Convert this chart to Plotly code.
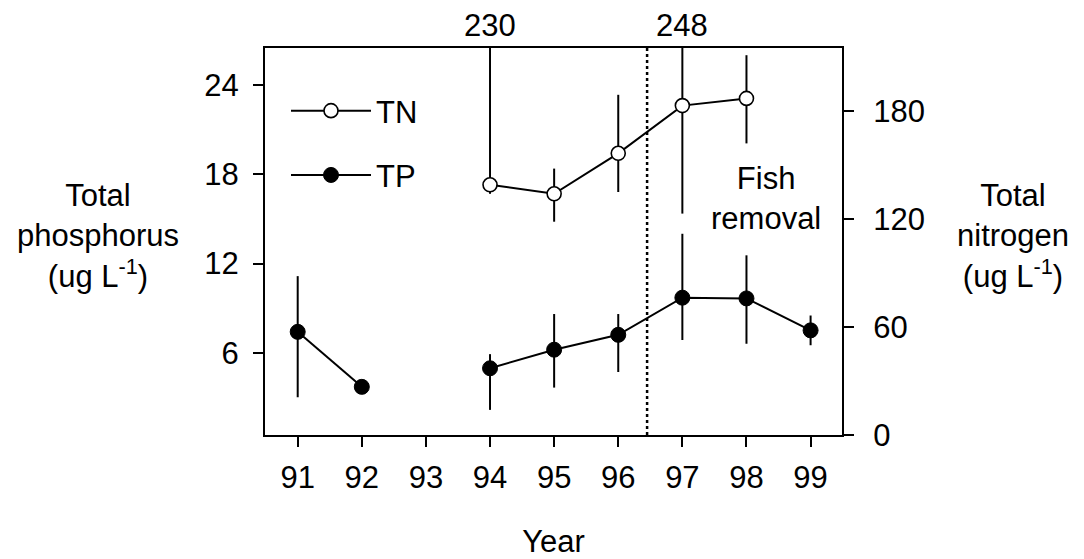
import plotly.graph_objects as go

# ---- data ----
years = [91, 92, 93, 94, 95, 96, 97, 98, 99]
tp = [7.4, 3.7, None, 4.95, 6.2, 7.2, 9.7, 9.65, 7.5]
tp_hi = [11.15, 3.7, None, 5.9, 8.6, 8.6, 14.0, 12.55, 8.5]
tp_lo = [3.0, 3.7, None, 2.15, 3.65, 4.7, 6.85, 6.6, 6.5]

tn_years = [94, 95, 96, 97, 98]
tn = [139, 134, 156.5, 183, 187]
tn_hi = [230, 148, 189, 248, 211]
tn_lo = [134, 118.5, 135, 123, 162]

offscale_labels = ["230", "248"]
offscale_years = [94, 97]

fish_removal_year = 96.45
tick_labels = [str(y) for y in years]

FONT = "Liberation Sans, Arial, Helvetica, sans-serif"
FS = 31

def diff(a, b):
    return [None if (x is None or y is None) else x - y for x, y in zip(a, b)]

fig = go.Figure()

fig.add_trace(go.Scatter(
    x=tn_years, y=tn, name="TN", yaxis="y2", mode="lines+markers",
    line=dict(color="black", width=2),
    marker=dict(symbol="circle", size=14, color="white", line=dict(color="black", width=1.6)),
    error_y=dict(type="data", symmetric=False, array=diff(tn_hi, tn),
                 arrayminus=diff(tn, tn_lo), width=0, thickness=2, color="black"),
    legendgroup="a",
))
fig.add_trace(go.Scatter(
    x=years, y=tp, name="TP", mode="lines+markers", connectgaps=False,
    line=dict(color="black", width=2),
    marker=dict(symbol="circle", size=15, color="black", line=dict(color="black", width=1)),
    error_y=dict(type="data", symmetric=False, array=diff(tp_hi, tp),
                 arrayminus=diff(tp, tp_lo), width=0, thickness=2, color="black"),
    legendgroup="b",
))

fig.add_shape(type="line", xref="x", yref="paper", x0=fish_removal_year, x1=fish_removal_year,
              y0=0, y1=1, line=dict(color="black", width=2.5, dash="dot"))

for lab, yr in zip(offscale_labels, offscale_years):
    fig.add_annotation(x=yr, xref="x", y=1.057, yref="paper", text=lab, showarrow=False,
                       font=dict(size=FS, family=FONT, color="black"), yanchor="middle")

fig.add_annotation(x=98.31, xref="x", y=0.61, yref="paper", text="Fish<br>removal",
                   showarrow=False, font=dict(size=FS, family=FONT, color="black"),
                   align="center", yanchor="middle")

fig.add_annotation(x=0, xref="paper", xshift=-167, y=0.515, yref="paper",
                   text="Total<br>phosphorus<br>(ug L<sup>-1</sup>)", showarrow=False,
                   font=dict(size=FS, family=FONT, color="black"), align="center",
                   xanchor="center", yanchor="middle")
fig.add_annotation(x=1, xref="paper", xshift=171, y=0.515, yref="paper",
                   text="Total<br>nitrogen<br>(ug L<sup>-1</sup>)", showarrow=False,
                   font=dict(size=FS, family=FONT, color="black"), align="center",
                   xanchor="center", yanchor="middle")

axis_common = dict(showgrid=False, zeroline=False, showline=True, linecolor="black",
                   linewidth=2, ticks="outside", ticklen=10, tickwidth=2, tickcolor="black",
                   tickfont=dict(size=FS, family=FONT, color="black"), automargin=False)

fig.update_layout(
    width=1084, height=559,
    margin=dict(l=265, r=242, t=48, b=124),
    paper_bgcolor="white", plot_bgcolor="white",
    font=dict(family=FONT, size=FS, color="black"),
    xaxis=dict(range=[90.49, 99.49], tickvals=years, ticktext=tick_labels, mirror=True,
               title=dict(text="Year", font=dict(size=FS, family=FONT), standoff=36),
               ticklabelstandoff=4, **axis_common),
    yaxis=dict(range=[0.46, 26.5], tickvals=[6, 12, 18, 24], ticklabelstandoff=8, **axis_common),
    yaxis2=dict(range=[0, 215], tickvals=[0, 60, 120, 180], overlaying="y", side="right",
                ticklabelstandoff=13, **axis_common),
    showlegend=True,
    legend=dict(x=0.0364, y=0.907, xanchor="left", yanchor="top", bgcolor="rgba(0,0,0,0)",
                font=dict(size=FS, family=FONT), itemwidth=80, tracegroupgap=21,
                traceorder="grouped"),
)

fig.write_html("out.html")
